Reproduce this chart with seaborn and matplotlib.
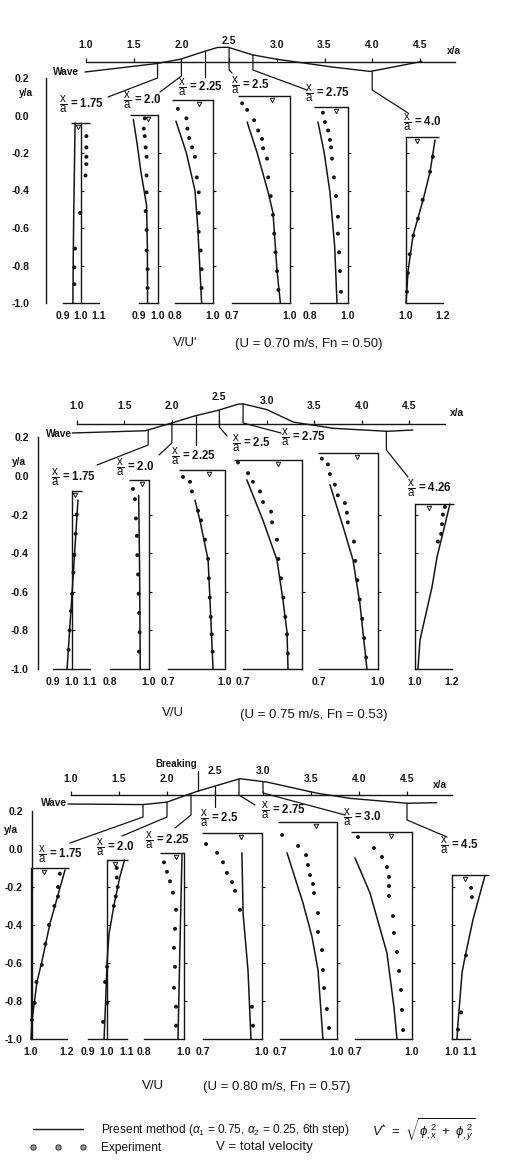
import numpy as np
import pandas as pd
import matplotlib
matplotlib.use("Agg")
import matplotlib.pyplot as plt
import seaborn as sns
from matplotlib.lines import Line2D

# ============================ DATA ============================
XA_TICKS = [1.0, 1.5, 2.0, 2.5, 3.0, 3.5, 4.0, 4.5]
XA_TICKLABELS = ["1.0", "1.5", "2.0", "2.5", "3.0", "3.5", "4.0", "4.5"]
YA_TICKS = [0.2, 0.0, -0.2, -0.4, -0.6, -0.8, -1.0]
YA_TICKLABELS = ["0.2", "0.0", "-0.2", "-0.4", "-0.6", "-0.8", "-1.0"]
REF_TICKS = [-0.8, -0.6, -0.4, -0.2]

# ---------- Panel 1 : U = 0.70 m/s, Fn = 0.50 ----------
P1_WAVE_X = [0.99, 1.74, 1.99, 2.23, 2.38, 2.49, 2.74, 3.0, 3.59, 3.98, 4.52]
P1_WAVE_ETA = [-0.056, -0.011, 0.012, 0.052, 0.075, 0.076, 0.036, 0.012, -0.030, -0.053, 0.0]
P1_STATIONS = [1.75, 2.0, 2.25, 2.5, 2.75, 4.0]
P1_STATION_TEXT = ["1.75", "2.0", "2.25", "2.5", "2.75", "4.0"]
P1_SURFACE = [-0.04, 0.003, 0.083, 0.104, 0.046, -0.115]
P1_RANGES = [(0.9, 1.1), (0.9, 1.0), (0.8, 1.0), (0.7, 1.0), (0.8, 1.0), (1.0, 1.2)]
P1_TICKLABELS = [["0.9", "1.0", "1.1"], ["0.9", "1.0"], ["0.8", "", "1.0"],
                 ["0.7", "", "", "1.0"], ["0.8", "", "1.0"], ["1.0", "", "1.2"]]

P1_175_CURVE_Y = [-1.0, -0.75, -0.5, -0.25, -0.04]
P1_175_CURVE_V = [0.955, 0.957, 0.96, 0.964, 0.967]
P1_175_EXP_Y = [-0.11, -0.17, -0.22, -0.26, -0.32, -0.52, -0.71, -0.81, -0.9]
P1_175_EXP_V = [1.03, 1.03, 1.03, 1.03, 1.025, 0.995, 0.967, 0.963, 0.963]

P1_200_CURVE_Y = [-1.0, -0.7, -0.48, -0.3, -0.15, -0.02]
P1_200_CURVE_V = [0.945, 0.944, 0.94, 0.91, 0.89, 0.87]
P1_200_EXP_Y = [-0.015, -0.07, -0.11, -0.17, -0.22, -0.32, -0.41, -0.51, -0.61, -0.72, -0.82, -0.92]
P1_200_EXP_V = [0.93, 0.925, 0.93, 0.935, 0.94, 0.94, 0.94, 0.935, 0.94, 0.94, 0.945, 0.945]

P1_225_CURVE_Y = [-1.0, -0.8, -0.6, -0.4, -0.2, -0.03]
P1_225_CURVE_V = [0.94, 0.93, 0.92, 0.905, 0.86, 0.805]
P1_225_EXP_Y = [0.035, -0.015, -0.07, -0.12, -0.17, -0.22, -0.33, -0.41, -0.52, -0.62, -0.72, -0.82, -0.92]
P1_225_EXP_V = [0.815, 0.86, 0.865, 0.875, 0.89, 0.905, 0.915, 0.925, 0.925, 0.925, 0.935, 0.94, 0.94]

P1_250_CURVE_Y = [-1.0, -0.83, -0.52, -0.41, -0.2, -0.035]
P1_250_CURVE_V = [0.95, 0.933, 0.912, 0.887, 0.83, 0.778]
P1_250_EXP_Y = [0.065, 0.03, -0.025, -0.08, -0.125, -0.175, -0.23, -0.33, -0.43, -0.53, -0.63, -0.73, -0.83, -0.93]
P1_250_EXP_V = [0.752, 0.778, 0.814, 0.835, 0.855, 0.861, 0.881, 0.887, 0.9, 0.912, 0.918, 0.925, 0.933, 0.94]

P1_275_CURVE_Y = [-1.0, -0.7, -0.41, -0.2, -0.035]
P1_275_CURVE_V = [0.942, 0.93, 0.905, 0.875, 0.842]
P1_275_EXP_Y = [0.015, -0.035, -0.08, -0.13, -0.17, -0.23, -0.33, -0.43, -0.54, -0.63, -0.73, -0.83, -0.94]
P1_275_EXP_V = [0.868, 0.879, 0.895, 0.905, 0.911, 0.916, 0.926, 0.937, 0.947, 0.947, 0.953, 0.958, 0.963]

P1_400_CURVE_Y = [-1.0, -0.83, -0.64, -0.44, -0.3, -0.13]
P1_400_CURVE_V = [1.0, 1.011, 1.038, 1.095, 1.13, 1.157]
P1_400_EXP_Y = [-0.22, -0.3, -0.45, -0.55, -0.64, -0.74, -0.84, -0.94]
P1_400_EXP_V = [1.145, 1.13, 1.09, 1.065, 1.04, 1.02, 1.01, 1.005]

# ---------- Panel 2 : U = 0.75 m/s, Fn = 0.53 ----------
P2_WAVE_X = [0.95, 1.72, 1.99, 2.24, 2.48, 2.70, 2.75, 3.0, 3.28, 3.70, 4.27, 4.54]
P2_WAVE_ETA = [-0.048, -0.036, 0.004, 0.043, 0.072, 0.106, 0.107, 0.077, 0.01, -0.023, -0.039, -0.032]
P2_STATIONS = [1.75, 2.0, 2.25, 2.5, 2.75, 4.26]
P2_STATION_TEXT = ["1.75", "2.0", "2.25", "2.5", "2.75", "4.26"]
P2_SURFACE = [-0.078, -0.02, 0.03, 0.083, 0.119, -0.145]
P2_RANGES = [(0.9, 1.1), (0.8, 1.0), (0.7, 1.0), (0.7, 1.0), (0.7, 1.0), (1.0, 1.2)]
P2_TICKLABELS = [["0.9", "1.0", "1.1"], ["0.8", "", "1.0"], ["0.7", "", "", "1.0"],
                 ["0.7", "", "", ""], ["0.7", "", "", "1.0"], ["1.0", "", "1.2"]]

P2_175_CURVE_Y = [-1.0, -0.61, -0.125]
P2_175_CURVE_V = [0.976, 1.003, 1.035]
P2_175_EXP_Y = [-0.2, -0.3, -0.41, -0.5, -0.61, -0.7, -0.8, -0.9]
P2_175_EXP_V = [1.028, 1.022, 1.015, 1.01, 1.003, 0.997, 0.99, 0.984]

P2_200_CURVE_Y = [-1.0, -0.5, -0.1]
P2_200_CURVE_V = [0.955, 0.952, 0.947]
P2_200_EXP_Y = [-0.067, -0.12, -0.22, -0.31, -0.41, -0.51, -0.61, -0.71, -0.81, -0.91]
P2_200_EXP_V = [0.918, 0.928, 0.933, 0.938, 0.94, 0.944, 0.947, 0.949, 0.952, 0.949]

P2_225_CURVE_Y = [-1.0, -0.64, -0.435, -0.23, -0.125]
P2_225_CURVE_V = [0.937, 0.921, 0.911, 0.868, 0.842]
P2_225_EXP_Y = [-0.005, -0.03, -0.08, -0.18, -0.23, -0.33, -0.43, -0.53, -0.63, -0.73, -0.82, -0.91]
P2_225_EXP_V = [0.779, 0.816, 0.826, 0.858, 0.874, 0.895, 0.911, 0.915, 0.92, 0.925, 0.93, 0.935]

P2_250_CURVE_Y = [-1.0, -0.81, -0.64, -0.435, -0.23, -0.02]
P2_250_CURVE_V = [0.929, 0.924, 0.903, 0.873, 0.802, 0.72]
P2_250_EXP_Y = [0.07, 0.015, -0.03, -0.08, -0.135, -0.185, -0.24, -0.33, -0.43, -0.53, -0.63, -0.73, -0.82, -0.92]
P2_250_EXP_V = [0.675, 0.726, 0.751, 0.787, 0.802, 0.843, 0.848, 0.873, 0.88, 0.893, 0.905, 0.915, 0.924, 0.928]

P2_275_CURVE_Y = [-1.0, -0.66, -0.435, -0.26, -0.045]
P2_275_CURVE_V = [0.944, 0.908, 0.873, 0.822, 0.756]
P2_275_EXP_Y = [0.09, 0.06, 0.01, -0.045, -0.1, -0.14, -0.19, -0.24, -0.34, -0.44, -0.54, -0.64, -0.74, -0.84, -0.94]
P2_275_EXP_V = [0.715, 0.746, 0.756, 0.781, 0.796, 0.832, 0.842, 0.847, 0.878, 0.885, 0.895, 0.907, 0.92, 0.93, 0.94]

P2_426_CURVE_Y = [-1.0, -0.85, -0.575, -0.42, -0.145]
P2_426_CURVE_V = [1.016, 1.027, 1.092, 1.119, 1.189]
P2_426_EXP_Y = [-0.16, -0.2, -0.25, -0.3, -0.34]
P2_426_EXP_V = [1.162, 1.151, 1.146, 1.141, 1.124]

# ---------- Panel 3 : U = 0.80 m/s, Fn = 0.57 ----------
P3_WAVE_X = [0.97, 1.75, 2.0, 2.31, 2.76, 3.04, 3.56, 3.91, 4.5, 4.81]
P3_WAVE_ETA = [-0.048, -0.051, -0.038, 0.019, 0.087, 0.069, 0.01, -0.018, -0.044, -0.041]
P3_BREAKING_X = 2.32
P3_STATIONS = [1.75, 2.0, 2.25, 2.5, 2.75, 3.0, 4.5]
P3_STATION_TEXT = ["1.75", "2.0", "2.25", "2.5", "2.75", "3.0", "4.5"]
P3_SURFACE = [-0.1, -0.058, -0.02, 0.084, 0.142, 0.09, -0.137]
P3_RANGES = [(1.0, 1.2), (0.9, 1.1), (0.8, 1.0), (0.7, 1.0), (0.7, 1.0), (0.7, 1.0), (1.0, 1.1)]
P3_TICKLABELS = [["1.0", "", "1.2"], ["0.9", "1.0", "1.1"], ["0.8", "", "1.0"], ["0.7", "", "", "1.0"],
                 ["0.7", "", "", "1.0"], ["0.7", "", "", "1.0"], ["1.0", "1.1"]]

P3_175_CURVE_Y = [-1.0, -0.9, -0.7, -0.59, -0.39, -0.11]
P3_175_CURVE_V = [1.0, 1.006, 1.033, 1.061, 1.106, 1.189]
P3_175_EXP_Y = [-0.13, -0.2, -0.25, -0.3, -0.4, -0.5, -0.61, -0.7, -0.81, -0.9]
P3_175_EXP_V = [1.16, 1.15, 1.15, 1.13, 1.1, 1.08, 1.06, 1.03, 1.02, 1.005]

P3_200_CURVE_Y = [-1.0, -0.8, -0.6, -0.45, -0.3, -0.15, -0.058]
P3_200_CURVE_V = [0.985, 0.993, 1.0, 1.01, 1.035, 1.065, 1.09]
P3_200_EXP_Y = [-0.1, -0.15, -0.2, -0.25, -0.3, -0.62, -0.7, -0.81, -0.91]
P3_200_EXP_V = [1.05, 1.05, 1.055, 1.045, 1.035, 1.0, 0.99, 1.0, 0.98]

P3_225_CURVE_Y = [-1.0, -0.5, -0.03]
P3_225_CURVE_V = [0.97, 0.98, 0.99]
P3_225_EXP_Y = [-0.07, -0.12, -0.17, -0.23, -0.32, -0.42, -0.52, -0.62, -0.73, -0.83, -0.93]
P3_225_EXP_V = [0.9, 0.915, 0.93, 0.945, 0.96, 0.955, 0.95, 0.955, 0.95, 0.96, 0.96]

P3_250_CURVE_Y = [-1.0, -0.64, -0.34, -0.02]
P3_250_CURVE_V = [0.944, 0.929, 0.904, 0.898]
P3_250_EXP_Y = [0.026, -0.02, -0.07, -0.126, -0.174, -0.22, -0.32, -0.83, -0.93]
P3_250_EXP_V = [0.716, 0.772, 0.802, 0.822, 0.848, 0.863, 0.888, 0.949, 0.954]

P3_275_CURVE_Y = [-1.0, -0.637, -0.46, -0.284, -0.02]
P3_275_CURVE_V = [0.926, 0.9, 0.868, 0.821, 0.737]
P3_275_EXP_Y = [0.074, 0.016, -0.032, -0.084, -0.137, -0.184, -0.232, -0.337, -0.437, -0.532, -0.637, -0.732, -0.842, -0.942]
P3_275_EXP_V = [0.711, 0.795, 0.837, 0.847, 0.858, 0.874, 0.879, 0.9, 0.9, 0.921, 0.926, 0.932, 0.947, 0.958]

P3_300_CURVE_Y = [-1.0, -0.832, -0.547, -0.232, -0.047]
P3_300_CURVE_V = [0.921, 0.905, 0.868, 0.779, 0.7]
P3_300_EXP_Y = [0.063, 0.005, -0.042, -0.095, -0.147, -0.195, -0.247, -0.353, -0.442, -0.542, -0.642, -0.742, -0.847, -0.953]
P3_300_EXP_V = [0.716, 0.8, 0.842, 0.868, 0.879, 0.879, 0.879, 0.9, 0.905, 0.921, 0.932, 0.942, 0.947, 0.953]

P3_450_CURVE_Y = [-1.0, -0.92, -0.65, -0.57, -0.37, -0.14]
P3_450_CURVE_V = [1.028, 1.033, 1.056, 1.072, 1.117, 1.183]
P3_450_EXP_Y = [-0.205, -0.253, -0.56, -0.86, -0.95]
P3_450_EXP_V = [1.106, 1.111, 1.078, 1.05, 1.033]

# ============================ STYLE ============================
sns.set_theme(style="white")
plt.rcParams["font.family"] = ["Liberation Sans", "DejaVu Sans"]
plt.rcParams["axes.unicode_minus"] = False
plt.rcParams["mathtext.fontset"] = "custom"
plt.rcParams["mathtext.rm"] = "Liberation Sans:bold"
plt.rcParams["mathtext.it"] = "Liberation Sans:italic"
plt.rcParams["mathtext.bf"] = "Liberation Sans:bold"

INK = "#151515"
LW = 1.0
TICK_FS = 7.5
W, H = 524, 1162
WAVE_PPU = 187.5

fig = plt.figure(figsize=(W / 100, H / 100), dpi=100)
fig.patch.set_facecolor("white")


def rect(x0, y0, x1, y1):
    return [x0 / W, 1 - y1 / H, (x1 - x0) / W, (y1 - y0) / H]


ax_bg = fig.add_axes([0, 0, 1, 1])
ax_bg.set_xlim(0, W)
ax_bg.set_ylim(H, 0)
ax_bg.axis("off")


def profiles(prefix, codes):
    g = globals()
    out = []
    for c in codes:
        out.append(dict(cy=g[f"{prefix}_{c}_CURVE_Y"], cv=g[f"{prefix}_{c}_CURVE_V"],
                        ey=g[f"{prefix}_{c}_EXP_Y"], ev=g[f"{prefix}_{c}_EXP_V"]))
    return out


PANELS = [
    dict(wave_x=P1_WAVE_X, wave_eta=P1_WAVE_ETA, stations=P1_STATIONS, stext=P1_STATION_TEXT,
         surface=P1_SURFACE, ranges=P1_RANGES, ticklabels=P1_TICKLABELS,
         prof=profiles("P1", ["175", "200", "225", "250", "275", "400"]),
         y0=115.5, ppu=187.5, yax_x=46, ypad=12, wave_y=61.5, xa1=86, xppu=95.4, axis_end=4.87,
         xpad=5, xpad_extra={2.5: 3},
         refs=[(81, 180), (158, 190), (213, 190), (290, 193), (348, 190), (406, 185)],
         leaders=[(78, (108, 97), (59, 104)), (76, (160, 92), (123, 100)), (77, None, (178, 87)),
                  (70, (232, 73), (231, 85)), (70, (307, 90), (305, 93)), (90, (408, 113), (403, 122))],
         wave_lbl=(53, 72), ya_lbl=(19, 93), xa_lbl=(447, 51),
         vu=("V/U'", 173, 343), cap=("(U = 0.70 m/s, Fn = 0.50)", 235, 344)),
    dict(wave_x=P2_WAVE_X, wave_eta=P2_WAVE_ETA, stations=P2_STATIONS, stext=P2_STATION_TEXT,
         surface=P2_SURFACE, ranges=P2_RANGES, ticklabels=P2_TICKLABELS,
         prof=profiles("P2", ["175", "200", "225", "250", "275", "426"]),
         y0=476, ppu=193, yax_x=38, ypad=6.5, wave_y=424, xa1=77, xppu=94.9, axis_end=4.88,
         xpad=6, xpad_extra={2.5: 7, 3.0: 4},
         refs=[(71.5, 185), (149, 195), (225, 190), (302, 197), (378, 197), (415, 185)],
         leaders=[(445, (97, 465), (51, 477)), (443, (159, 455), (116, 467)), (445, None, (171, 456)),
                  (427, (227, 436), (232, 443)), (423, (281, 433), (281, 437)), (450, (408, 477), (407, 488))],
         wave_lbl=(46, 434), ya_lbl=(12, 462), xa_lbl=(450, 413),
         vu=("V/U", 162, 713), cap=("(U = 0.75 m/s, Fn = 0.53)", 240, 715)),
    dict(wave_x=P3_WAVE_X, wave_eta=P3_WAVE_ETA, stations=P3_STATIONS, stext=P3_STATION_TEXT,
         surface=P3_SURFACE, ranges=P3_RANGES, ticklabels=P3_TICKLABELS,
         prof=profiles("P3", ["175", "200", "225", "250", "275", "300", "450"]),
         y0=849, ppu=190, yax_x=32, ypad=6.5, wave_y=795, xa1=71, xppu=96, axis_end=4.97,
         xpad=5, xpad_extra={2.5: 6, 3.0: 6},
         refs=[(31, 180), (107, 195), (184, 200), (262, 197), (337, 190), (412, 190), (452, 180)],
         leaders=[(817, (70, 843), (38, 854)), (817, (122, 836), (96, 847)), (815, (175, 828), (145, 840)),
                  (807, None, (200, 818)), (795, (255, 805), (261, 810)), (793, (345, 815), (343, 817)),
                  (820, (447, 837), (440, 845))],
         wave_lbl=(41, 803), ya_lbl=(4, 830), xa_lbl=(433, 785),
         vu=("V/U", 142, 1086), cap=("(U = 0.80 m/s, Fn = 0.57)", 203, 1087),
         breaking=(P3_BREAKING_X, 771, "Breaking", 176, 764)),
]

FRAC = r"$\dfrac{\mathrm{x}}{\mathrm{a}}$"
BOLD = "bold"

for P in PANELS:
    y0, ppu = P["y0"], P["ppu"]
    ytop, ybot = y0 - 0.35 * ppu, y0 + 1.2 * ppu

    # ---------------- wave sketch with x/a axis ----------------
    wy, xa1, xppu = P["wave_y"], P["xa1"], P["xppu"]
    axw = fig.add_axes(rect(0, wy - 60, W, wy + 40))
    axw.patch.set_visible(False)
    dfw = pd.DataFrame({"x": P["wave_x"], "eta": P["wave_eta"]})
    sns.lineplot(data=dfw, x="x", y="eta", sort=False, estimator=None, color=INK, lw=LW, ax=axw)
    axw.set_xlim(1.0 - xa1 / xppu, 1.0 + (W - xa1) / xppu)
    axw.set_ylim(-40 / WAVE_PPU, 60 / WAVE_PPU)
    axw.set_xlabel("")
    axw.set_ylabel("")
    for s in ["left", "right", "bottom"]:
        axw.spines[s].set_visible(False)
    axw.spines["top"].set_position(("data", 0.0))
    axw.spines["top"].set_bounds(1.0, P["axis_end"])
    axw.spines["top"].set_color(INK)
    axw.spines["top"].set_linewidth(LW)
    axw.xaxis.tick_top()
    axw.set_xticks(XA_TICKS)
    axw.set_xticklabels(XA_TICKLABELS, fontweight=BOLD)
    axw.set_yticks([])
    axw.tick_params(axis="x", direction="out", length=3, width=0.9, color=INK,
                    pad=P["xpad"], labelsize=TICK_FS, labelcolor=INK)
    for tk, val in zip(axw.xaxis.get_major_ticks(), XA_TICKS):
        tk.set_pad(P["xpad"] + P["xpad_extra"].get(val, 0))

    # leader lines + station labels
    for xs, txt, (knee, end, lab) in zip(P["stations"], P["stext"], P["leaders"]):
        e = np.interp(xs, P["wave_x"], P["wave_eta"])
        dx, dy = axw.transData.transform((xs, e))
        px, py = dx, H - dy
        xsL, ysL = [px, px], [py, knee]
        if end is not None:
            xsL.append(end[0])
            ysL.append(end[1])
        ax_bg.plot(xsL, ysL, color=INK, lw=0.9)
        ax_bg.text(lab[0], lab[1], FRAC + " = " + txt, ha="left", va="center",
                   fontsize=8.3, color=INK, fontweight=BOLD)

    if "breaking" in P:
        bx, btop, btxt, tx, ty = P["breaking"]
        e = np.interp(bx, P["wave_x"], P["wave_eta"])
        dx, dy = axw.transData.transform((bx, e))
        ax_bg.plot([dx, dx], [H - dy, btop], color=INK, lw=0.9)
        ax_bg.text(tx, ty, btxt, ha="center", va="center", fontsize=7, color=INK, fontweight=BOLD)

    ax_bg.text(*P["wave_lbl"], "Wave", ha="left", va="center", fontsize=7.3, color=INK, fontweight=BOLD)
    ax_bg.text(*P["xa_lbl"], "x/a", ha="left", va="center", fontsize=7.3, color=INK, fontweight=BOLD)
    ax_bg.text(*P["ya_lbl"], "y/a", ha="left", va="center", fontsize=7.3, color=INK, fontweight=BOLD)

    # ---------------- y/a axis ----------------
    axy = fig.add_axes(rect(P["yax_x"], ytop, P["yax_x"] + 20, ybot))
    axy.patch.set_visible(False)
    axy.set_xlim(0, 1)
    axy.set_ylim(-1.2, 0.35)
    for s in ["right", "top", "bottom"]:
        axy.spines[s].set_visible(False)
    axy.spines["left"].set_bounds(-1.0, 0.2)
    axy.spines["left"].set_color(INK)
    axy.spines["left"].set_linewidth(LW)
    axy.set_xticks([])
    axy.set_yticks(YA_TICKS)
    axy.set_yticklabels(YA_TICKLABELS, fontweight=BOLD)
    axy.tick_params(axis="y", direction="in", length=3.5, width=0.9, color=INK,
                    pad=P["ypad"], labelsize=TICK_FS, labelcolor=INK)

    # ---------------- velocity profiles ----------------
    for i, pr in enumerate(P["prof"]):
        ref_px, sc = P["refs"][i]
        lo, hi = P["ranges"][i]
        eta = P["surface"][i]
        vmin, vmax = lo - 0.3, hi + 0.3
        ax = fig.add_axes(rect(ref_px + (vmin - 1) * sc, ytop, ref_px + (vmax - 1) * sc, ybot))
        ax.patch.set_visible(False)

        dfc = pd.DataFrame({"V": pr["cv"], "y": pr["cy"]})
        dfe = pd.DataFrame({"V": pr["ev"], "y": pr["ey"]})
        sns.lineplot(data=dfc, x="V", y="y", sort=False, estimator=None, color=INK, lw=1.1, ax=ax)
        sns.scatterplot(data=dfe, x="V", y="y", s=8, color=INK, edgecolor="none", ax=ax)

        # free-surface line at this station, joined to the V/U = 1 reference
        top_vals = [pr["cv"][int(np.argmax(pr["cy"]))], pr["ev"][int(np.argmax(pr["ey"]))], 1.0]
        tlo, thi = min(top_vals), max(top_vals)
        tlo = tlo - 0.02 if tlo < 1.0 else tlo
        thi = thi + 0.02 if thi > 1.0 else thi
        ax.hlines(eta, tlo, thi, color=INK, lw=LW)
        far = tlo if tlo < 1.0 else thi
        ax.plot([1.0 + 0.35 * (far - 1.0)], [eta - 0.022], marker="v", ms=3.2,
                mfc="white", mec=INK, mew=0.7, ls="none")

        ax.set_xlim(vmin, vmax)
        ax.set_ylim(-1.2, 0.35)
        ax.set_xlabel("")
        ax.set_ylabel("")
        for s in ["left", "top"]:
            ax.spines[s].set_visible(False)
        ax.spines["bottom"].set_position(("data", -1.0))
        ax.spines["bottom"].set_bounds(lo, hi)
        ax.spines["right"].set_position(("data", 1.0))
        ax.spines["right"].set_bounds(-1.0, eta)
        for s in ["bottom", "right"]:
            ax.spines[s].set_color(INK)
            ax.spines[s].set_linewidth(LW)
        nt = int(round((hi - lo) / 0.1)) + 1
        ax.set_xticks(np.linspace(lo, hi, nt))
        ax.set_xticklabels(P["ticklabels"][i], fontweight=BOLD)
        ax.tick_params(axis="x", direction="in", length=3, width=0.9, color=INK,
                       pad=6, labelsize=TICK_FS, labelcolor=INK)
        ax.yaxis.tick_right()
        ax.set_yticks([t for t in REF_TICKS if t < eta])
        ax.tick_params(axis="y", direction="out", length=2.5, width=0.8, color=INK,
                       labelright=False, labelleft=False)

    # captions
    t, x, y = P["vu"]
    ax_bg.text(x, y, t, ha="left", va="center", fontsize=9.5, color=INK)
    t, x, y = P["cap"]
    ax_bg.text(x, y, t, ha="left", va="center", fontsize=9.5, color=INK)

# ---------------- legend ----------------
plt.rcParams["mathtext.rm"] = "Liberation Sans"
h_line = Line2D([], [], color=INK, lw=1.0)
h_dots = Line2D([], [], color=INK, marker="o", ls="none", ms=3.8, mfc="#999999", mec=INK, mew=0.6)
leg = ax_bg.legend([h_line, h_dots],
                   [r"Present method ($\alpha_1$ = 0.75, $\alpha_2$ = 0.25, 6th step)", "Experiment"],
                   loc="upper left", bbox_to_anchor=(29 / W, 1 - 1122 / H), bbox_transform=fig.transFigure,
                   frameon=False, fontsize=8.6, handlelength=4.8, handletextpad=1.25,
                   labelspacing=0.35, borderpad=0, borderaxespad=0, numpoints=3)
for t in leg.get_texts():
    t.set_color(INK)
ax_bg.text(372, 1130, r"$V^{*}\ =\ \sqrt{\phi_{,x}^{\ 2}\ +\ \phi_{,y}^{\ 2}}$", ha="left", va="center",
           fontsize=9.5, color=INK)
ax_bg.text(216, 1147, "V = total velocity", ha="left", va="center", fontsize=9.5, color=INK)

fig.savefig("out.png", dpi=100, facecolor="white")
